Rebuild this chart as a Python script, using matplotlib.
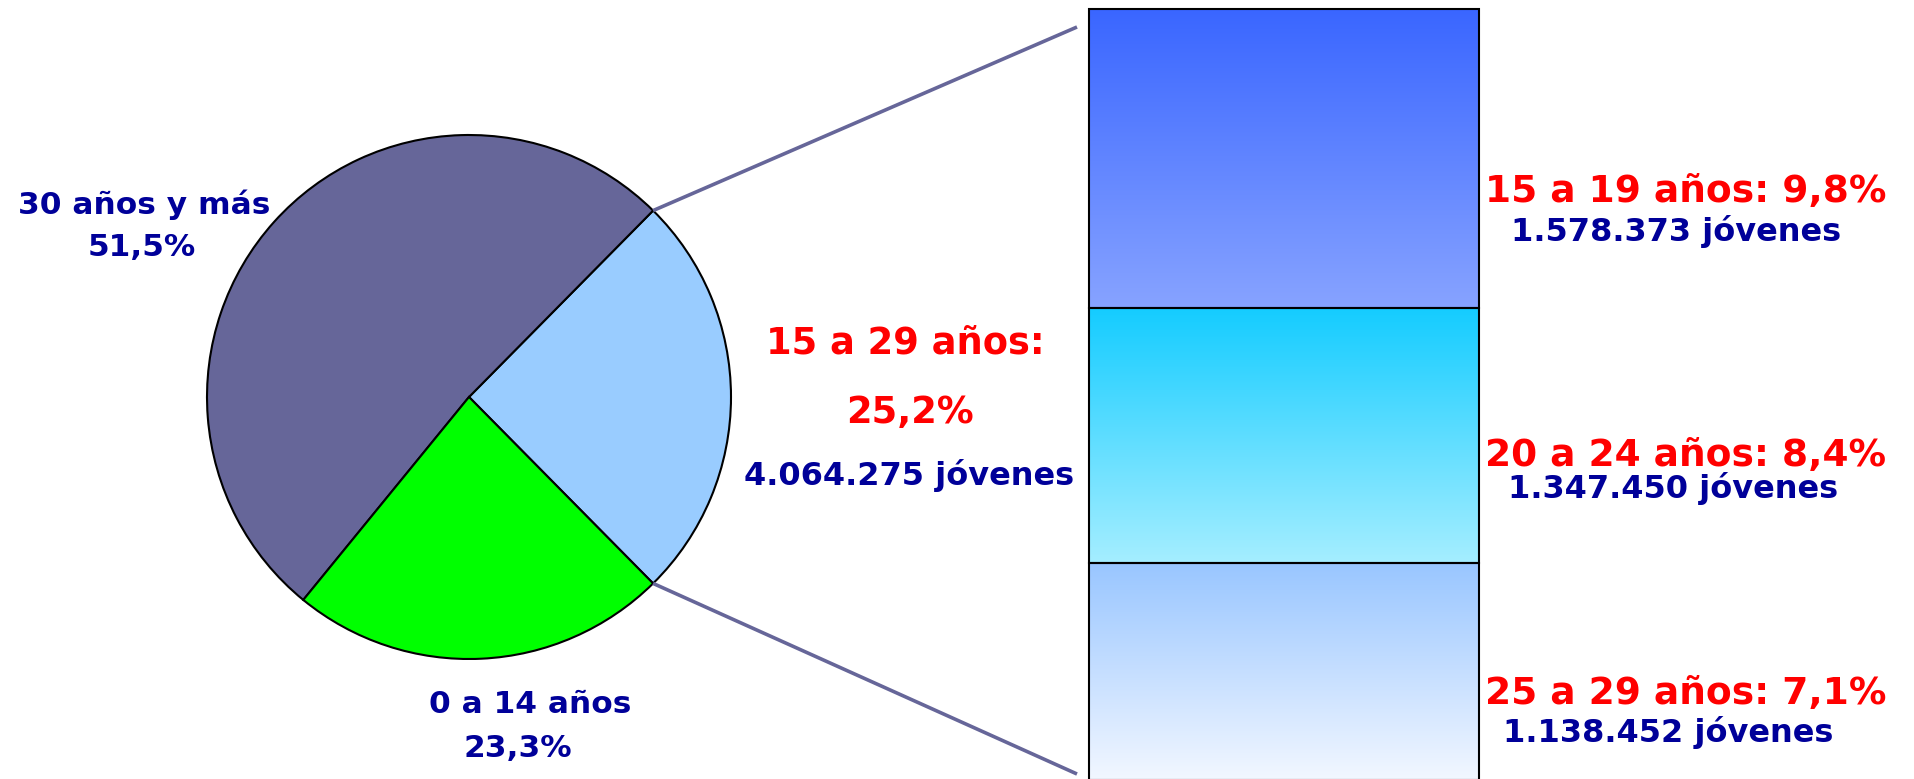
import numpy as np
import matplotlib.pyplot as plt
from matplotlib.colors import LinearSegmentedColormap

W, H = 1914, 779

# pie: 15-29 first so its wedge is centred on the right side
pie_labels = ["15 a 29 años", "30 años y más", "0 a 14 años"]
pie_pct = [25.2, 51.5, 23.3]
pie_colors = ["#99CCFF", "#666699", "#00FF00"]
total_young = "4.064.275"

# stacked bar, bottom to top
bar_labels = ["25 a 29 años", "20 a 24 años", "15 a 19 años"]
bar_pct = [7.1, 8.4, 9.8]
bar_people = ["1.138.452", "1.347.450", "1.578.373"]
bar_grad = [("#F2F7FF", "#99C6FF"), ("#A5EEFF", "#14CCFF"), ("#87A3FF", "#3A66FF")]  # (bottom, top)

NAVY = "#000099"
RED = "#FF0000"
plt.rcParams["font.family"] = ["DejaVu Sans"]

fig = plt.figure(figsize=(W / 100, H / 100), dpi=100)
ax = fig.add_axes([0, 0, 1, 1])

cx, cy, r = 469, H - 397, 262
start = -pie_pct[0] * 3.6 / 2
ax.pie(pie_pct, colors=pie_colors, startangle=start, center=(cx, cy), radius=r,
       wedgeprops=dict(edgecolor="black", linewidth=1.5), frame=True)
ax.set_xlim(0, W)
ax.set_ylim(0, H)
ax.axis("off")

# connector lines from the 15-29 wedge to the bar
a0 = np.deg2rad(start)
a1 = np.deg2rad(start + pie_pct[0] * 3.6)
ax.plot([cx + r * np.cos(a1), 1077], [cy + r * np.sin(a1), H - 27], color="#666699", lw=2.6,
        solid_capstyle="butt", zorder=1)
ax.plot([cx + r * np.cos(a0), 1077], [cy + r * np.sin(a0), H - 774], color="#666699", lw=2.6,
        solid_capstyle="butt", zorder=1)


def label(x, y, s, color, size, ha="left"):
    ax.text(x, H - y, s, color=color, fontsize=size, fontweight="bold", ha=ha, va="baseline")


label(144, 214, pie_labels[1], NAVY, 22.5, "center")
label(142, 256, f"{pie_pct[1]:.1f}%".replace(".", ","), NAVY, 22.5, "center")
label(530, 713, pie_labels[2], NAVY, 22.5, "center")
label(518, 757, f"{pie_pct[2]:.1f}%".replace(".", ","), NAVY, 22.5, "center")
label(905, 353, pie_labels[0] + ":", RED, 26.5, "center")
label(910, 423, f"{pie_pct[0]:.1f}%".replace(".", ","), RED, 26.5, "center")
label(909, 485, total_young + " jóvenes", NAVY, 23, "center")

# bar
bax = fig.add_axes([1088.5 / W, (H - 9.5 - 770) / H, 390 / W, 770 / H])
bottoms = np.concatenate([[0], np.cumsum(bar_pct)[:-1]])
for b, h, (c0, c1) in zip(bottoms, bar_pct, bar_grad):
    cmap = LinearSegmentedColormap.from_list("g", [c0, c1])
    grad = np.linspace(0, 1, 256).reshape(-1, 1)
    bax.imshow(grad, extent=[0, 1, b, b + h], origin="lower", aspect="auto", cmap=cmap, zorder=1)
bars = bax.bar(0.5, bar_pct, width=1, bottom=bottoms, facecolor="none", edgecolor="black",
               linewidth=1.5, zorder=3)
for p in bars:
    p.set_clip_on(False)
bax.set_xlim(0, 1)
bax.set_ylim(0, sum(bar_pct))
bax.axis("off")

red_y = [704, 466, 202]
blue_y = [742, 498, 241]
blue_x = [1503, 1508, 1511]
for lab, pct, ppl, ry, by, bx in zip(bar_labels, bar_pct, bar_people, red_y, blue_y, blue_x):
    label(1485, ry, f"{lab}: {pct:.1f}%".replace(".", ","), RED, 27)
    label(bx, by, ppl + " jóvenes", NAVY, 23)

fig.savefig("out.png", dpi=100)
